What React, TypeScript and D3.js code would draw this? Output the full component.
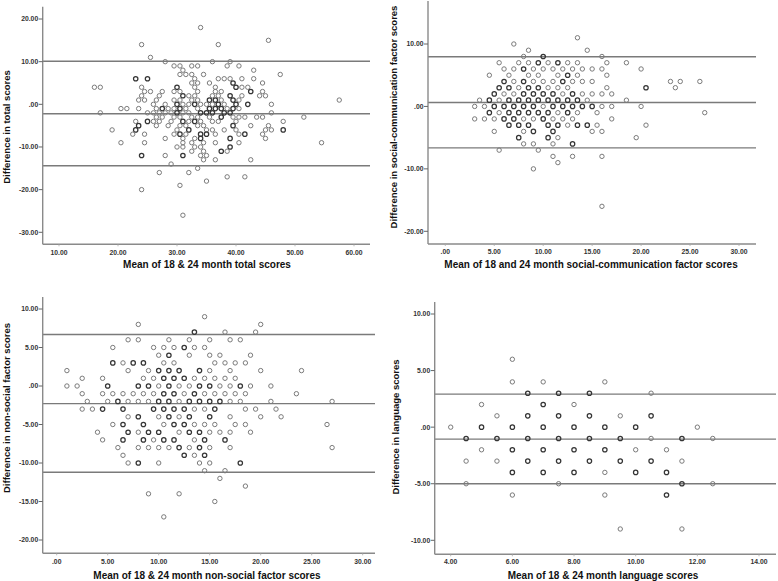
import React from 'react';
import * as d3 from 'd3';

type Pt = [number, number, number?];

// ---------- data ----------
const totalPoints: Pt[] = [
  [34, 18], [45.5, 15], [24, 14], [37, 14], [25.5, 11],
  [28, 10], [36, 10], [39, 10],
  [29.5, 9], [30.5, 9], [32.5, 9], [33.5, 9], [38.5, 9], [40.5, 9],
  [31, 8], [43, 8],
  [30.5, 7], [31.5, 7], [32.5, 7], [34.5, 7], [47.5, 7],
  [23, 6, 2], [25, 6, 2], [33, 6], [37, 6], [38, 6], [39, 6], [41, 6], [43, 6],
  [32.5, 5], [33.5, 5], [35.5, 5], [39.5, 5, 2], [44.5, 5],
  [16, 4], [17, 4], [24, 4], [30, 4, 2], [33, 4], [36.5, 4], [40, 4, 2], [41, 4], [42, 4],
  [24.5, 3], [25.5, 3], [27.5, 3], [29.5, 3], [30.5, 3], [33.5, 3], [36.5, 3], [37.5, 3], [42.5, 3, 2], [44.5, 3],
  [24, 2], [27, 2], [31, 2, 2], [32, 2], [33, 2], [36, 2], [37, 2], [39, 2, 2], [41, 2], [44, 2], [45, 2],
  [23.5, 1], [24.5, 1], [26.5, 1], [29.5, 1], [30.5, 1], [32.5, 1], [33.5, 1], [35.5, 1, 2], [36.5, 1, 2], [37.5, 1], [39.5, 1, 2], [40.5, 1], [57.5, 1],
  [26, 0], [28, 0], [30, 0, 2], [31, 0], [32, 0], [33, 0, 2], [34, 0], [35, 0], [36, 0], [37, 0, 2], [38, 0], [40, 0, 2], [42, 0, 2], [46, 0],
  [20.5, -1], [21.5, -1], [23.5, -1], [26.5, -1], [27.5, -1, 2], [28.5, -1], [29.5, -1], [30.5, -1, 2], [31.5, -1], [33.5, -1], [35.5, -1, 2], [36.5, -1, 2], [37.5, -1, 2], [38.5, -1], [39.5, -1, 2], [40.5, -1],
  [17, -2], [25, -2], [26, -2], [27, -2], [28, -2], [29, -2], [30, -2, 2], [31, -2], [32, -2], [34, -2, 2], [35, -2, 2], [36, -2, 2], [38, -2, 2], [39, -2, 2], [46, -2],
  [26.5, -3], [27.5, -3], [29.5, -3], [30.5, -3], [32.5, -3], [33.5, -3], [35.5, -3], [37.5, -3, 2], [39.5, -3], [40.5, -3], [41.5, -3], [43.5, -3], [44.5, -3], [51.5, -3],
  [23, -4], [25, -4, 2], [26, -4], [27, -4], [29, -4], [31, -4, 2], [32, -4], [33, -4, 2], [34, -4], [36, -4], [37, -4], [40, -4], [48, -4],
  [23.5, -5, 2], [26.5, -5], [28.5, -5], [30.5, -5], [31.5, -5], [33.5, -5], [34.5, -5], [39.5, -5, 2], [42.5, -5], [45.5, -5],
  [19, -6], [23, -6, 2], [30, -6], [32, -6, 2], [35, -6], [36, -6], [38, -6], [40, -6], [45, -6], [46, -6], [48, -6, 2],
  [22.5, -7], [24.5, -7], [29.5, -7], [30.5, -7, 2], [31.5, -7], [34, -7, 2], [35, -7, 2], [36.5, -7], [40.5, -7], [41.5, -7, 2], [44.5, -7],
  [28, -8], [31, -8], [33, -8], [34, -8, 2], [39, -8, 2], [45, -8],
  [20.5, -9], [24.5, -9], [31, -9], [32.5, -9], [34.5, -9], [36.5, -9], [40.5, -9], [54.5, -9],
  [30, -10], [31, -10], [33, -10], [34, -10], [39, -10, 2],
  [32.5, -11], [34.5, -11], [37.5, -11, 2], [38.5, -11],
  [24, -12, 2], [28, -12], [31, -12, 2], [34, -12], [35, -12],
  [34.5, -13], [36.5, -13], [42.5, -13],
  [29, -14], [33.5, -15], [27, -16], [32, -16], [38.5, -17], [41.5, -17],
  [35, -18], [30.5, -19], [24, -20], [31, -26],
];

const socialPoints: Pt[] = [
  [13.5, 11], [7, 10], [8.5, 9], [14.5, 9],
  [8, 8], [10, 8, 2], [16, 8],
  [5.5, 7], [7.5, 7], [8.5, 7], [9.5, 7, 2], [10.5, 7], [11.5, 7, 2], [12.5, 7], [13.5, 7], [16.5, 7], [18.5, 7],
  [6, 6], [7, 6], [8, 6, 2], [9, 6], [10, 6], [11, 6], [12, 6], [13, 6], [14, 6], [15, 6], [16, 6], [20, 6],
  [4.5, 5], [6.5, 5], [8.5, 5], [9.5, 5], [11.5, 5], [12.5, 5, 2], [13.5, 5], [16.5, 5],
  [6, 4, 2], [7, 4], [8, 4, 2], [9, 4], [10, 4], [11, 4], [12, 4, 2], [13, 4], [14, 4], [15, 4], [23, 4], [24, 4], [26, 4],
  [5.5, 3, 2], [6.5, 3, 2], [7.5, 3], [8.5, 3, 2], [9.5, 3, 2], [10.5, 3], [11.5, 3], [12.5, 3], [16.5, 3], [20.5, 3, 2], [23.5, 3],
  [5, 2, 2], [6, 2], [7, 2], [8, 2, 2], [9, 2, 2], [10, 2, 2], [11, 2, 2], [12, 2], [13, 2, 2], [14, 2], [15, 2], [16, 2], [17, 2],
  [3.5, 1], [4.5, 1, 2], [5.5, 1], [6.5, 1, 2], [7.5, 1, 2], [8.5, 1, 2], [9.5, 1, 2], [10.5, 1, 2], [11.5, 1, 2], [12.5, 1, 2], [13.5, 1, 2], [14.5, 1], [18.5, 1],
  [3, 0], [4, 0], [5, 0, 2], [6, 0, 2], [7, 0, 2], [8, 0, 2], [9, 0, 2], [10, 0], [11, 0, 2], [12, 0, 2], [13, 0, 2], [14, 0, 2], [15, 0, 2], [16, 0], [17, 0], [20, 0],
  [4.5, -1, 2], [5.5, -1], [6.5, -1, 2], [7.5, -1, 2], [8.5, -1, 2], [9.5, -1, 2], [10.5, -1, 2], [11.5, -1], [12.5, -1, 2], [13.5, -1], [15.5, -1], [26.5, -1],
  [3, -2], [4, -2], [5, -2], [6, -2, 2], [7, -2, 2], [8, -2], [9, -2], [10, -2, 2], [11, -2], [12, -2], [13, -2], [17, -2],
  [6.5, -3, 2], [7.5, -3, 2], [8.5, -3, 2], [10.5, -3, 2], [11.5, -3, 2], [12.5, -3], [13.5, -3, 2], [14.5, -3, 2], [15.5, -3], [20.5, -3],
  [5, -4], [8, -4], [9, -4, 2], [11, -4, 2], [15, -4], [16, -4],
  [7.5, -5, 2], [10.5, -5, 2], [11.5, -5], [19.5, -5],
  [8, -6], [9, -6], [11, -6], [13, -6, 2],
  [5.5, -7], [9.5, -7],
  [11, -8], [13, -8], [16, -8],
  [11.5, -9], [9, -10], [16, -16],
];

const nonSocialPoints: Pt[] = [
  [14.5, 9], [8, 8], [20, 8],
  [13.5, 7, 2], [16.5, 7], [19.5, 7],
  [7, 6], [8, 6], [11, 6], [13, 6], [15, 6], [17, 6], [18, 6],
  [5.5, 5], [9.5, 5], [10.5, 5], [11.5, 5], [12.5, 5, 2], [13.5, 5], [14.5, 5],
  [10, 4], [11, 4, 2], [13, 4], [15, 4], [16, 4], [19, 4],
  [5.5, 3, 2], [6.5, 3], [7.5, 3, 2], [8.5, 3, 2], [10.5, 3], [11.5, 3], [15.5, 3], [16.5, 3], [17.5, 3], [18.5, 3],
  [1, 2], [7, 2], [9, 2], [10, 2, 2], [11, 2, 2], [12, 2, 2], [14, 2, 2], [15, 2], [17, 2], [20, 2], [24, 2],
  [2.5, 1], [4.5, 1], [8.5, 1], [9.5, 1], [10.5, 1, 2], [11.5, 1, 2], [12.5, 1, 2], [13.5, 1], [14.5, 1], [15.5, 1], [16.5, 1], [17.5, 1],
  [1, 0], [2, 0], [5, 0, 2], [8, 0, 2], [9, 0, 2], [10, 0], [11, 0, 2], [12, 0], [13, 0], [14, 0, 2], [15, 0, 2], [16, 0], [17, 0], [18, 0, 2], [19, 0], [21, 0],
  [2.5, -1], [4.5, -1], [5.5, -1], [6.5, -1], [7.5, -1], [8.5, -1], [9.5, -1], [10.5, -1, 2], [11.5, -1, 2], [12.5, -1], [13.5, -1, 2], [14.5, -1], [15.5, -1], [16.5, -1], [17.5, -1], [18.5, -1], [23.5, -1],
  [3, -2], [5, -2], [6, -2, 2], [7, -2], [8, -2], [9, -2], [10, -2, 2], [11, -2, 2], [12, -2], [13, -2, 2], [14, -2, 2], [15, -2, 2], [16, -2, 2], [17, -2], [18, -2], [21, -2], [27, -2],
  [2.5, -3], [3.5, -3], [4.5, -3, 2], [6.5, -3, 2], [9.5, -3, 2], [10.5, -3, 2], [11.5, -3, 2], [12.5, -3, 2], [13.5, -3], [14.5, -3], [15.5, -3, 2], [18.5, -3], [19.5, -3], [21.5, -3],
  [7, -4], [8, -4, 2], [10, -4], [11, -4, 2], [12, -4], [13, -4, 2], [15, -4, 2], [17, -4], [20, -4], [22, -4],
  [5.5, -5], [6.5, -5, 2], [8.5, -5, 2], [10.5, -5], [11.5, -5, 2], [12.5, -5, 2], [13.5, -5], [14.5, -5], [15.5, -5], [17.5, -5], [18.5, -5], [26.5, -5],
  [4, -6], [7, -6, 2], [8, -6], [9, -6, 2], [10, -6, 2], [12, -6], [13, -6, 2], [14, -6, 2], [15, -6], [16, -6], [17, -6], [19, -6],
  [4.5, -7], [6.5, -7, 2], [8.5, -7, 2], [9.5, -7], [10.5, -7, 2], [11.5, -7, 2], [13.5, -7], [14.5, -7, 2], [16.5, -7, 2],
  [6, -8], [8, -8], [9, -8], [10, -8], [11, -8], [12, -8, 2], [13, -8], [14, -8, 2], [15, -8], [17, -8], [27, -8],
  [6.5, -9], [12.5, -9, 2], [13.5, -9], [14.5, -9, 2],
  [7, -10], [8, -10, 2], [10, -10], [14, -10], [15, -10], [18, -10, 2],
  [14.5, -11], [16.5, -11], [16, -12], [18.5, -13],
  [9, -14], [12, -14], [15.5, -15], [10.5, -17],
];

const languagePoints: Pt[] = [
  [4, 0],
  [4.5, -1, 2], [4.5, -3], [4.5, -5],
  [5, 2], [5, 0, 2], [5, -2],
  [5.5, 1], [5.5, -1, 2], [5.5, -3],
  [6, 6], [6, 4], [6, 0, 2], [6, -2, 2], [6, -4, 2], [6, -6],
  [6.5, 3, 2], [6.5, 1, 2], [6.5, -1, 2], [6.5, -3, 2],
  [7, 4], [7, 2, 2], [7, 0, 2], [7, -2, 2], [7, -4, 2],
  [7.5, 3, 2], [7.5, 1, 2], [7.5, -1, 2], [7.5, -3, 2], [7.5, -5],
  [8, 2], [8, 0, 2], [8, -2, 2], [8, -4, 2],
  [8.5, 3, 2], [8.5, 1, 2], [8.5, -1, 2], [8.5, -3, 2],
  [9, 4], [9, 0, 2], [9, -2, 2], [9, -4], [9, -6],
  [9.5, 1], [9.5, -1, 2], [9.5, -3, 2], [9.5, -9],
  [10, 0, 2], [10, -2], [10, -4, 2],
  [10.5, 3], [10.5, 1, 2], [10.5, -1], [10.5, -3, 2],
  [11, -2], [11, -4, 2], [11, -6, 2],
  [11.5, -1, 2], [11.5, -3], [11.5, -5, 2], [11.5, -9],
  [12, 0], [12.5, -1], [12.5, -5],
];

const totalXTicks = [10, 20, 30, 40, 50, 60];
const totalYTicks = [20, 10, 0, -10, -20, -30];
const socialXTicks = [0, 5, 10, 15, 20, 25, 30];
const socialYTicks = [10, 0, -10, -20];
const nonSocialXTicks = [0, 5, 10, 15, 20, 25, 30];
const nonSocialYTicks = [10, 5, 0, -5, -10, -15, -20];
const languageXTicks = [4, 6, 8, 10, 12, 14];
const languageYTicks = [10, 5, 0, -5, -10];

// limits of agreement: upper, mean difference, lower
const totalRefLines = [10.08, -2.2, -14.4];
const socialRefLines = [7.95, 0.64, -6.63];
const nonSocialRefLines = [6.68, -2.29, -11.2];
const languageRefLines = [2.92, -1.06, -5.0];

const totalXTitle = 'Mean of 18 & 24 month total scores';
const totalYTitle = 'Difference in total scores';
const socialXTitle = 'Mean of 18 and 24 month social-communication factor scores';
const socialYTitle = 'Difference in social-communication factor scores';
const nonSocialXTitle = 'Mean of 18 & 24 month non-social factor scores';
const nonSocialYTitle = 'Difference in non-social factor scores';
const languageXTitle = 'Mean of 18 & 24 month language scores';
const languageYTitle = 'Difference in language scores';

// ---------- layout ----------
interface Layout {
  left: number; right: number; top: number; bottom: number;
  xA: [number, number]; xB: [number, number];
  yA: [number, number]; yB: [number, number];
  xTitleX: number; xTitleY: number;
  yTitleX: number; yTitleY: number;
  xLabelY: number;
}

const fmt = (v: number) => (v === 0 ? '.00' : v.toFixed(2));

const FONT = '"Liberation Sans", Arial, sans-serif';

function Panel(props: {
  lay: Layout; points: Pt[]; xTicks: number[]; yTicks: number[]; refs: number[];
  xTitle: string; yTitle: string;
}) {
  const { lay, points, xTicks, yTicks, refs, xTitle, yTitle } = props;
  const x = d3.scaleLinear().domain([lay.xA[0], lay.xB[0]]).range([lay.xA[1], lay.xB[1]]);
  const y = d3.scaleLinear().domain([lay.yA[0], lay.yB[0]]).range([lay.yA[1], lay.yB[1]]);
  const axisColor = '#8a8a8a';
  return (
    <g>
      {refs.map((r, i) => (
        <line key={'r' + i} x1={lay.left} x2={lay.right} y1={y(r)} y2={y(r)} stroke="#7a7a7a" strokeWidth={1.4} />
      ))}
      {points.map((p, i) => {
        const n = p[2] ?? 1;
        return (
          <circle key={'p' + i} cx={x(p[0])} cy={y(p[1])} r={2.2} fill="none"
            stroke={n > 1 ? '#353535' : '#7a7a7a'} strokeWidth={n > 1 ? 1.25 : 1} />
        );
      })}
      <line x1={lay.left} x2={lay.left} y1={lay.top} y2={lay.bottom} stroke={axisColor} strokeWidth={1.4} />
      <line x1={lay.left} x2={lay.right} y1={lay.bottom} y2={lay.bottom} stroke={axisColor} strokeWidth={1.4} />
      {yTicks.map((t) => (
        <g key={'yt' + t}>
          <line x1={lay.left - 4} x2={lay.left} y1={y(t)} y2={y(t)} stroke="#666" strokeWidth={1} />
          <text x={lay.left - 4.5} y={y(t)} dy="0.35em" textAnchor="end" fontFamily={FONT}
            fontWeight="bold" fontSize={6.8} fill="#333">{fmt(t)}</text>
        </g>
      ))}
      {xTicks.map((t) => (
        <g key={'xt' + t}>
          <line x1={x(t)} x2={x(t)} y1={lay.bottom} y2={lay.bottom + 2} stroke="#aaa" strokeWidth={0.8} />
          <text x={x(t)} y={lay.xLabelY} dy="0.35em" textAnchor="middle" fontFamily={FONT}
            fontWeight="bold" fontSize={6.8} fill="#333">{fmt(t)}</text>
        </g>
      ))}
      <text x={lay.xTitleX} y={lay.xTitleY} textAnchor="middle" fontFamily={FONT}
        fontWeight="bold" fontSize={10} fill="#111">{xTitle}</text>
      <text transform={`translate(${lay.yTitleX},${lay.yTitleY}) rotate(-90)`} textAnchor="middle"
        fontFamily={FONT} fontWeight="bold" fontSize={9.5} fill="#111">{yTitle}</text>
    </g>
  );
}

const layTotal: Layout = {
  left: 42.7, right: 370, top: 6.7, bottom: 244.3,
  xA: [10, 59], xB: [60, 354], yA: [20, 19], yB: [-30, 232.3],
  xTitleX: 207, xTitleY: 268, yTitleX: 9.5, yTitleY: 127, xLabelY: 252.5,
};
const laySocial: Layout = {
  left: 428, right: 756, top: 1, bottom: 244,
  xA: [0, 445.3], xB: [30, 739], yA: [10, 44], yB: [-20, 231.3],
  xTitleX: 591, xTitleY: 268, yTitleX: 396.5, yTitleY: 117, xLabelY: 251.5,
};
const layNonSocial: Layout = {
  left: 42.7, right: 375, top: 297, bottom: 553.3,
  xA: [0, 56.7], xB: [30, 362.7], yA: [10, 309], yB: [-20, 540],
  xTitleX: 207, xTitleY: 579, yTitleX: 9.5, yTitleY: 408, xLabelY: 561.5,
};
const layLanguage: Layout = {
  left: 434.7, right: 776, top: 302, bottom: 554.3,
  xA: [4, 450.7], xB: [14, 759], yA: [10, 314], yB: [-10, 540.3],
  xTitleX: 603, xTitleY: 579, yTitleX: 399, yTitleY: 427, xLabelY: 562,
};

export default function App() {
  return (
    <svg width={778} height={581} style={{ position: 'absolute', left: 0, top: 0, background: '#fff' }}>
      <rect x={0} y={0} width={778} height={581} fill="#fff" />
      <Panel lay={layTotal} points={totalPoints} xTicks={totalXTicks} yTicks={totalYTicks}
        refs={totalRefLines} xTitle={totalXTitle} yTitle={totalYTitle} />
      <Panel lay={laySocial} points={socialPoints} xTicks={socialXTicks} yTicks={socialYTicks}
        refs={socialRefLines} xTitle={socialXTitle} yTitle={socialYTitle} />
      <Panel lay={layNonSocial} points={nonSocialPoints} xTicks={nonSocialXTicks} yTicks={nonSocialYTicks}
        refs={nonSocialRefLines} xTitle={nonSocialXTitle} yTitle={nonSocialYTitle} />
      <Panel lay={layLanguage} points={languagePoints} xTicks={languageXTicks} yTicks={languageYTicks}
        refs={languageRefLines} xTitle={languageXTitle} yTitle={languageYTitle} />
    </svg>
  );
}
